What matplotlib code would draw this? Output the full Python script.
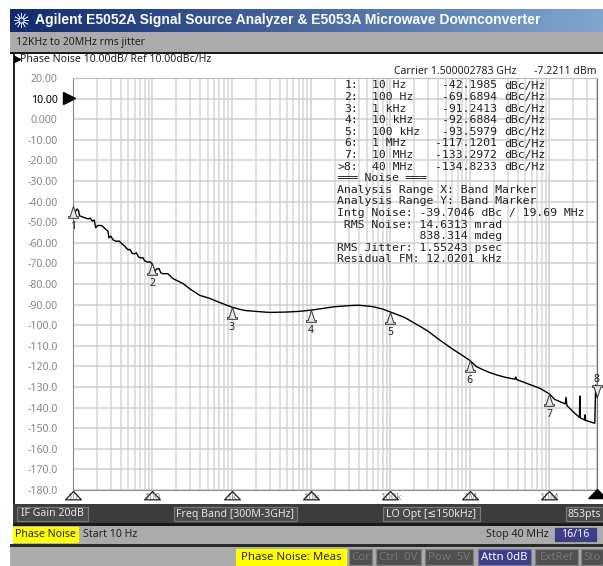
import numpy as np
import matplotlib
matplotlib.use("Agg")
import matplotlib.pyplot as plt
from matplotlib.patches import Rectangle
from matplotlib.ticker import LogLocator, NullFormatter, FixedLocator, FixedFormatter

W, H = 603, 566

# ---------- data ----------
trace_freq = [10, 10.5, 11.2, 11.7, 12.1, 13.5, 15.5, 16.5, 17.5, 18.5, 19.3, 20.5, 22.8, 24.5, 26.3, 27.5, 28.4,
              30, 32, 35.2, 38, 42.7, 45, 47, 49.3, 52, 56, 59.9, 63, 67, 72.7, 76, 80, 84, 88.2,
              94, 100, 103, 107, 112, 121, 128, 136, 157, 182, 244, 295, 395, 528, 706, 1000, 1259, 1500, 2000, 3000, 5000,
              7000, 10000, 15000, 20000, 30000, 40000, 60000, 80000, 100000, 150000, 234000, 300000, 417000, 611000,
              800000, 1000000, 1210000, 1500000, 1780000, 2200000,
              2880000, 3700000, 3800000, 3900000, 5180000, 7600000, 10000000, 11700000, 15900000,
              16300000, 16700000, 20000000, 24000000, 24300000, 24600000, 28000000, 28300000, 28600000,
              37500000, 38500000, 40000000]
trace_db = [-44, -45.5, -43.6, -44.2, -46.9, -47.6, -48.4, -48, -49.5, -48.9, -52.7, -51.6, -51.6, -52.6, -53.7, -54.2, -57.6,
            -56.8, -58.6, -59.3, -59.1, -61, -61.6, -62.6, -63.4, -63.2, -65.2, -65.3, -64.9, -66.9, -67.4, -67.2, -68.8, -69.1, -69.4,
            -69.2, -70.5, -72, -74, -72.8, -72.5, -74.6, -75, -75, -77.4, -79.8, -82.3, -85.5, -87, -89, -91.2, -92.3, -92.9, -93.3,
            -93.8, -93.6, -93.3, -92.7, -91.7, -91, -90.5, -90.3, -91, -92.2, -93.6, -96.2, -100.5, -103, -107.2, -111.7,
            -114.6, -117.1, -120.1, -121.8, -123, -124.2,
            -125.4, -126.2, -125.2, -126.4, -128.2, -130.6, -133.3, -136, -138.2, -135, -139, -142, -144.8,
            -134.4, -145, -146, -143.5, -146.2, -147.6, -129, -134.8]

marker_id = ["1:", "2:", "3:", "4:", "5:", "6:", "7:", ">8:"]
marker_freq = [10, 100, 1e3, 1e4, 1e5, 1e6, 1e7, 4e7]
marker_freq_label = ["10 Hz", "100 Hz", "1 kHz", "10 kHz", "100 kHz", "1 MHz", "10 MHz", "40 MHz"]
marker_value = [-42.1985, -69.6894, -91.2413, -92.6884, -93.5979, -117.1201, -133.2972, -134.8233]
marker_value_label = ["-42.1985", "-69.6894", "-91.2413", "-92.6884", "-93.5979", "-117.1201", "-133.2972", "-134.8233"]

y_ticks = [20, 10, 0, -10, -20, -30, -40, -50, -60, -70, -80, -90, -100, -110, -120, -130, -140, -150, -160, -170, -180]
y_labels = ["20.00", "10.00", "0.000", "-10.00", "-20.00", "-30.00", "-40.00", "-50.00", "-60.00", "-70.00",
            "-80.00", "-90.00", "-100.0", "-110.0", "-120.0", "-130.0", "-140.0", "-150.0", "-160.0", "-170.0", "-180.0"]
x_decade_labels = ["10", "100", "1k", "10k", "100k", "1M", "10M"]
x_decades = [10, 100, 1e3, 1e4, 1e5, 1e6, 1e7]

noise_lines = ["Analysis Range X: Band Marker", "Analysis Range Y: Band Marker",
               "Intg Noise: -39.7046 dBc / 19.69 MHz", " RMS Noise: 14.6313 mrad",
               "            838.314 mdeg", "RMS Jitter: 1.55243 psec", "Residual FM: 12.0201 kHz"]

# ---------- figure ----------
UI = ["Noto Sans", "DejaVu Sans"]
MONO = "DejaVu Sans Mono"
plt.rcParams["font.family"] = UI
fig = plt.figure(figsize=(W / 100, H / 100), dpi=100, facecolor="white")

def frame_axes(z):
    a = fig.add_axes([0, 0, 1, 1], zorder=z)
    a.set_xlim(0, W)
    a.set_ylim(H, 0)
    a.axis("off")
    a.patch.set_alpha(0)
    return a

back = frame_axes(0)
front = frame_axes(5)

def rect(a, x0, y0, x1, y1, fc, ec="none", lw=0, z=1):
    a.add_patch(Rectangle((x0, y0), x1 - x0, y1 - y0, fc=fc, ec=ec, lw=lw, zorder=z))

# window chrome
grad = np.linspace(0, 1, 256)[None, :, None]
c0, c1 = np.array([0x12, 0x2a, 0x6e]) / 255, np.array([0x7f, 0xa6, 0xcf]) / 255
back.imshow(c0 + (c1 - c0) * grad, extent=(10, W, 32, 9), aspect="auto", zorder=1)
back.set_xlim(0, W)
back.set_ylim(H, 0)
rect(back, 10, 32, W, 52, "#ababab")
rect(back, 10, 51.5, W, 53.5, "#1a1a1a")
rect(back, 13, 52, 15, 525, "#222222")
rect(back, 15, 53.5, W, 504, "white")
rect(back, 13, 504, W, 523.5, "#3c3c3c")
rect(back, 13, 523, W, 525.5, "#1a1a1a")
rect(back, 13, 525.5, W, 544, "#ababab")
rect(back, 10, 544, W, 547, "#2a2a2a")
rect(back, 10, 547, W, H, "#ababab")

# ---------- main axes ----------
left, right, top, bottom = 73, 597, 78, 490
ax = fig.add_axes([left / W, 1 - bottom / H, (right - left) / W, (bottom - top) / H], zorder=2)
ax.set_xscale("log")
ax.set_xlim(10, 4e7)
ax.set_ylim(-180, 20)
ax.xaxis.set_major_locator(LogLocator(base=10, numticks=12))
ax.xaxis.set_minor_locator(LogLocator(base=10, subs=np.arange(2, 10), numticks=12))
ax.xaxis.set_major_formatter(NullFormatter())
ax.xaxis.set_minor_formatter(NullFormatter())
ax.yaxis.set_major_locator(FixedLocator(y_ticks))
ax.yaxis.set_major_formatter(FixedFormatter(y_labels))
ax.tick_params(which="both", length=0)
ax.tick_params(axis="y", pad=11, labelsize=7.6, labelcolor="#858585")
ax.grid(True, which="major", color="#cfcfcf", lw=1.1)
ax.grid(True, which="minor", axis="x", color="#d6d6d6", lw=1.1)
ax.set_axisbelow(True)
ax.spines["top"].set_color("#bdbdbd")
ax.spines["bottom"].set_color("#909090")
ax.spines["left"].set_color("#8a8a8a")
ax.spines["right"].set_color("#707070")
for lab, val in zip(ax.get_yticklabels(), y_ticks):
    if val == 10:
        lab.set_color("black")

ax.plot(trace_freq, trace_db, color="black", lw=1.0, solid_joinstyle="round", zorder=3)

# marker shapes, tip at the origin of the path
TIP_UP = [(0, 0), (-0.28, -0.86), (-0.42, -0.86), (-0.42, -1), (0.42, -1), (0.42, -0.86), (0.28, -0.86), (0, 0)]
TIP_DOWN = [(x, -y) for x, y in TIP_UP]
BASE_UP = [(0, 0), (-0.95, -1), (0.95, -1), (0, 0)]

# bottom-row decade labels beneath triangles
xt = ax.get_xaxis_transform()
for f, s in zip(x_decades, x_decade_labels):
    ax.text(f, -0.0185, s, transform=xt, ha="center", va="center", fontsize=6.8, color="#8a8a8a", clip_on=False)
for f in x_decades:
    ax.plot([f], [-0.002], marker=BASE_UP, ms=12, mfc="none", mec="#222222", mew=0.9, transform=xt,
            clip_on=False, zorder=4)
ax.plot([4e7], [0.002], marker=BASE_UP, ms=13, mfc="black", mec="black", transform=xt, clip_on=False, zorder=4)

# trace markers
for i, (f, v) in enumerate(zip(marker_freq, marker_value)):
    if i < 7:
        ax.plot([f], [v], marker=TIP_UP, ms=17, mfc="#e6e6e6", mec="#333333", mew=0.7, zorder=5, clip_on=False)
        ax.annotate(str(i + 1), (f, v), xytext=(0, -15), textcoords="offset pixels", ha="center", va="top",
                    fontsize=7.5, color="#222222", zorder=6)
    else:
        ax.plot([f], [v], marker=TIP_DOWN, ms=17, mfc="#e6e6e6", mec="#333333", mew=0.7, zorder=5, clip_on=False)
        ax.annotate("8", (f, v), xytext=(0, 12), textcoords="offset pixels", ha="center", va="bottom",
                    fontsize=7.5, color="#222222", zorder=6, annotation_clip=False)

# ---------- front: texts ----------
def t(x, y, s, size=8, color="#222222", ha="left", weight="normal", family=None):
    front.text(x, y, s, fontsize=size, color=color, ha=ha, va="center", weight=weight, family=family or UI)

front.scatter([21], [20], marker=(12, 2, 0), s=110, c="#cfdaea", linewidths=0.5, zorder=3)
front.scatter([21], [20], marker="o", s=14, c="#1f3a7e", edgecolors="#dfe7f2", linewidths=0.8, zorder=4)
t(35, 20, "Agilent E5052A Signal Source Analyzer & E5053A Microwave Downconverter",
  size=10.0, color="white", weight="bold", family="Liberation Sans")
t(16, 42.5, "12KHz to 20MHz rms jitter", size=7.5)
front.plot([17], [59], marker=">", ms=4.5, color="black", ls="none")
t(20, 59, "Phase Noise 10.00dB/ Ref 10.00dBc/Hz", size=7.6)
front.plot([68.5], [98], marker=">", ms=9, color="black", ls="none")
t(394, 72, "Carrier 1.500002783 GHz", size=7.5)
t(596, 72, "-7.2211 dBm", size=7.6, ha="right")

row0, dy, mono = 85.5, 11.6, 8.25
for i in range(8):
    y = row0 + i * dy
    t(358, y, marker_id[i], mono, ha="right", family=MONO)
    t(372, y, marker_freq_label[i], mono, family=MONO)
    t(497, y, marker_value_label[i], mono, ha="right", family=MONO)
    t(504, y, "dBc/Hz", mono, family=MONO)
t(337, row0 + 8 * dy, "\u2550\u2550\u2550 Noise \u2550\u2550\u2550", mono, family=MONO)
for i, s in enumerate(noise_lines):
    t(337, row0 + (9 + i) * dy, s, mono, family=MONO)

def chip(x0, x1, y0, y1, s, fc="#4a4a4a", ec="#777777", tc="#e6e6e6", size=7.6):
    rect(front, x0, y0, x1, y1, fc, ec, 0.9, z=2)
    t((x0 + x1) / 2, (y0 + y1) / 2, s, size, color=tc, ha="center")

chip(17, 88, 507, 521, "IF Gain 20dB")
chip(174, 297, 507, 521, "Freq Band [300M-3GHz]")
chip(383, 480, 507, 521, "LO Opt [\u2264150kHz]")
chip(566, 603, 507, 521, "853pts")

chip(13, 78, 527, 542, "Phase Noise", fc="#ffff00", ec="#ffff00", tc="#222222")
t(83, 534.5, "Start 10 Hz", size=7.6)
t(549, 534.5, "Stop 40 MHz", size=7.6, ha="right")
chip(555, 596, 528, 541, "16/16", fc="#3d3d8a", ec="#3d3d8a", tc="white")

chip(236, 346, 549, 565, "Phase Noise: Meas", fc="#ffff00", ec="#ffff00", tc="#222222", size=8.2)
GREY = dict(fc="#505050", ec="#808080", tc="#777777", size=8.2)
chip(349, 372, 549, 565, "Cor", **GREY)
chip(376, 421, 549, 565, "Ctrl  0V", **GREY)
chip(425, 473, 549, 565, "Pow  5V", **GREY)
chip(478, 531, 549, 565, "Attn 0dB", fc="#3d3d8a", ec="#777799", tc="white", size=8.2)
chip(535, 578, 549, 565, "ExtRef", **GREY)
chip(581, 602.5, 549, 565, "Sto", **GREY)

fig.savefig("out.png", dpi=100)
